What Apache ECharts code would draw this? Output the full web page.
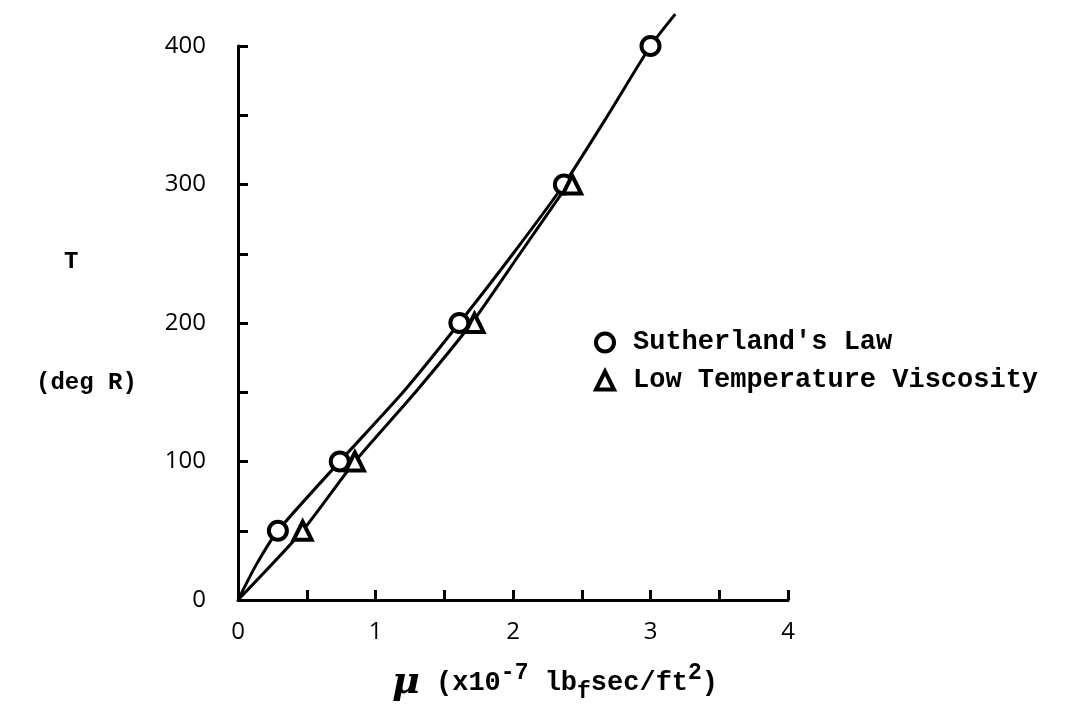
<!DOCTYPE html>
<html>
<head>
<meta charset="utf-8">
<script src="https://cdn.jsdelivr.net/npm/echarts@6/dist/echarts.min.js"></script>
<style>
html,body{margin:0;padding:0;background:#fff;}
#chart{width:1082px;height:711px;}
</style>
</head>
<body>
<div id="chart"></div>
<script>
// Data
const sutherlandMu = [0.29, 0.74, 1.61, 2.37, 3.0];
const sutherlandT  = [50, 100, 200, 300, 400];
const lowTempMu = [0.47, 0.85, 1.72, 2.43];
const lowTempT  = [50, 100, 200, 300];
// curves drawn through the points
const sutherlandCurveMu = [0, 0.13, 0.29, 0.74, 1.2, 1.61, 2.0, 2.37, 2.69, 3.0, 3.18];
const sutherlandCurveT  = [0, 25, 50, 100, 150, 200, 250, 300, 350, 400, 423];
const lowTempCurveMu = [0, 0.47, 0.85, 1.29, 1.70, 2.05, 2.40];
const lowTempCurveT  = [0, 50, 100, 150, 200, 250, 300];
const xLabelValues = [0, 1, 2, 3, 4];
const yLabelValues = [0, 100, 200, 300, 400];

const zip = (a, b) => a.map((v, i) => [v, b[i]]);

const chart = echarts.init(document.getElementById('chart'), null, {renderer: 'canvas'});
const ink = '#000';
const markStyle = {color: '#fff', borderColor: ink, borderWidth: 4, opacity: 1};
const labelFont = 'Open Sans';

chart.setOption({
  backgroundColor: '#fff',
  animation: false,
  grid: {left: 238, top: 46, width: 550, height: 554, containLabel: false},
  xAxis: {
    type: 'value', min: 0, max: 4, interval: 0.5,
    axisLine: {show: true, onZero: false, lineStyle: {color: ink, width: 3}},
    axisTick: {show: true, inside: true, length: 10, lineStyle: {color: ink, width: 3}},
    splitLine: {show: false},
    axisLabel: {
      margin: 20, color: ink, fontSize: 24, fontFamily: labelFont,
      formatter: v => xLabelValues.includes(v) ? String(v) : ''
    }
  },
  yAxis: {
    type: 'value', min: 0, max: 400, interval: 50,
    axisLine: {show: true, onZero: false, lineStyle: {color: ink, width: 3}},
    axisTick: {show: true, inside: true, length: 10, lineStyle: {color: ink, width: 3}},
    splitLine: {show: false},
    axisLabel: {
      margin: 32, color: ink, fontSize: 24, fontFamily: labelFont,
      formatter: v => yLabelValues.includes(v) ? String(v) : ''
    }
  },
  legend: {
    orient: 'vertical', left: 589, top: 324, itemGap: 11,
    itemWidth: 18, itemHeight: 18,
    itemStyle: {color: '#fff', borderColor: ink, borderWidth: 4},
    data: ["Sutherland's Law", 'Low Temperature Viscosity'],
    textStyle: {color: ink, fontSize: 27, fontFamily: 'Liberation Mono', fontWeight: 'bold', padding: [0, 0, 0, 14]}
  },
  graphic: [
    {type: 'text', left: 64, top: 250, style: {text: 'T', fill: ink, font: 'bold 24px "Liberation Mono"'}},
    {type: 'text', left: 36, top: 371, style: {text: '(deg R)', fill: ink, font: 'bold 24px "Liberation Mono"'}},
    {type: 'text', left: 392, top: 662, style: {
      text: '{mu|μ}{t| (x10}{sup|-7}{t| lb}{sub|f}{t|sec/ft}{sup|2}{t|)}',
      fill: ink,
      rich: {
        mu: {fontSize: 38, fontStyle: 'italic', fontWeight: 'bold', fontFamily: 'DejaVu Serif', fill: ink, lineHeight: 42},
        t: {fontSize: 27, fontFamily: 'Liberation Mono', fontWeight: 'bold', fill: ink},
        sup: {fontSize: 23, fontFamily: 'Liberation Mono', fontWeight: 'bold', fill: ink, verticalAlign: 'top'},
        sub: {fontSize: 23, fontFamily: 'Liberation Mono', fontWeight: 'bold', fill: ink, verticalAlign: 'bottom'}
      }
    }}
  ],
  series: [
    {
      type: 'line', data: zip(sutherlandCurveMu, sutherlandCurveT), smooth: 0.2,
      showSymbol: false, clip: false, silent: true,
      lineStyle: {color: ink, width: 3}
    },
    {
      type: 'line', data: zip(lowTempCurveMu, lowTempCurveT), smooth: 0.2,
      showSymbol: false, clip: false, silent: true,
      lineStyle: {color: ink, width: 3}
    },
    {
      name: "Sutherland's Law", type: 'scatter', symbol: 'circle', symbolSize: 18,
      data: zip(sutherlandMu, sutherlandT), itemStyle: markStyle, z: 5
    },
    {
      name: 'Low Temperature Viscosity', type: 'scatter', symbol: 'triangle', symbolSize: 18,
      data: zip(lowTempMu, lowTempT), itemStyle: markStyle, z: 5
    }
  ]
});
</script>
</body>
</html>
